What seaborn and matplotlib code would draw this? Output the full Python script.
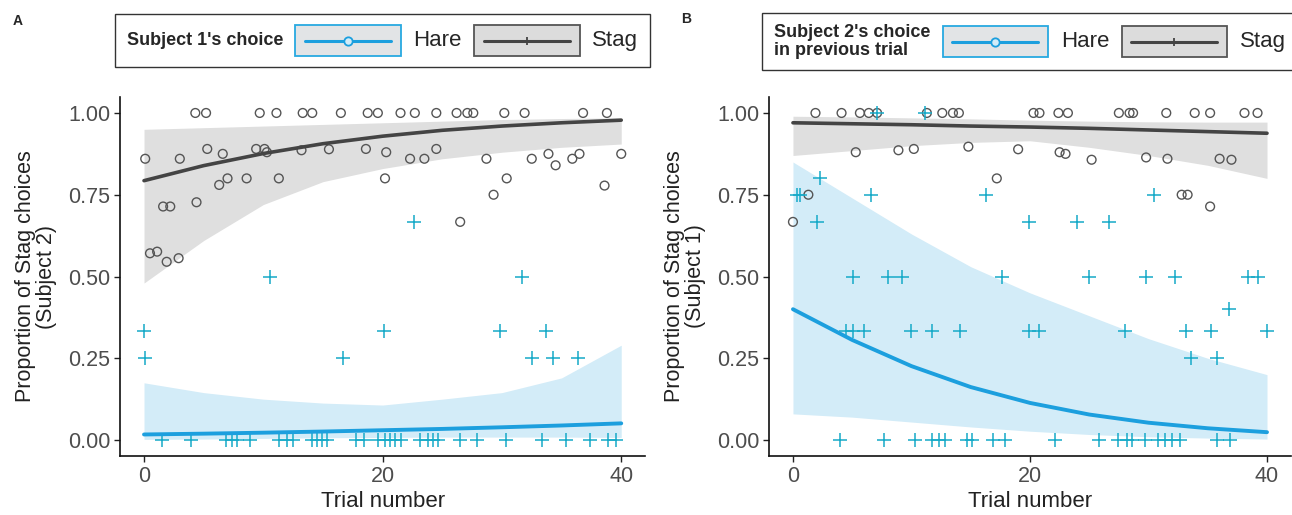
# Stag hunt: proportion of Stag choices over trials, split by partner's choice

import matplotlib.pyplot as plt
import seaborn as sns
import pandas as pd
from matplotlib.patches import Rectangle
from matplotlib.lines import Line2D
from matplotlib.offsetbox import TextArea, DrawingArea, HPacker, AnchoredOffsetbox


# ---- data ----
# Panel A: Subject 2's Stag proportion, split by Subject 1's choice
a_stag_trial = [0.1, 3.0, 4.3, 5.2, 5.3, 6.6, 7.0, 6.3, 4.4, 1.6, 2.2, 0.5, 1.1, 1.9,
                2.9, 9.7, 11.1, 13.3, 14.1, 16.5, 18.75, 19.6, 9.4, 10.1, 10.3, 8.6,
                11.3, 13.2, 15.5, 18.6, 20.3, 20.2, 21.5, 22.7, 24.5, 26.2, 27.1, 27.6,
                30.2, 31.9, 36.8, 38.8, 22.3, 23.5, 24.5, 28.7, 30.4, 29.3, 26.5, 32.5,
                33.9, 34.5, 35.9, 36.5, 38.6, 40.0]
a_stag_prop = [0.86, 0.86, 1, 1, 0.89, 0.875, 0.80, 0.78, 0.727, 0.714, 0.714, 0.571,
               0.576, 0.545, 0.556, 1, 1, 1, 1, 1, 1, 1, 0.89, 0.89, 0.88, 0.80, 0.80,
               0.886, 0.889, 0.89, 0.88, 0.80, 1, 1, 1, 1, 1, 1, 1, 1, 1, 1, 0.86, 0.86,
               0.89, 0.86, 0.80, 0.75, 0.667, 0.86, 0.875, 0.84, 0.86, 0.875, 0.778,
               0.875]
a_hare_trial = [0, 0.1, 16.7, 20.1, 10.6, 31.7, 22.6, 29.8, 33.7, 32.5, 34.3, 36.4,
                1.5, 3.9, 6.9, 7.4, 7.8, 8.9, 11.3, 12.0, 12.5, 14.1, 14.5, 14.9, 15.3,
                17.8, 18.4, 19.6, 20.2, 20.6, 21.0, 21.5, 23.1, 23.8, 24.2, 24.6, 26.5,
                27.9, 30.3, 33.4, 35.4, 37.4, 38.9, 39.6]
a_hare_prop = [0.333, 0.25, 0.25, 0.333, 0.5, 0.5, 0.667, 0.333, 0.333, 0.25, 0.25, 0.25,
               0, 0, 0, 0, 0, 0, 0, 0, 0, 0, 0, 0, 0, 0, 0, 0, 0, 0, 0, 0, 0, 0, 0, 0,
               0, 0, 0, 0, 0, 0, 0, 0]

# Panel B: Subject 1's Stag proportion, split by Subject 2's previous choice
b_stag_trial = [0, 1.3, 1.9, 4.1, 5.65, 6.4, 7.1, 11.3, 12.6, 13.5, 14.0, 5.3, 8.9,
                10.2, 14.8, 19.0, 17.2, 20.3, 20.8, 22.4, 23.2, 27.5, 28.4, 28.7, 31.5,
                33.9, 35.2, 38.1, 39.2, 22.5, 23.0, 25.2, 29.8, 31.6, 36.0, 37.0, 32.8,
                33.3, 35.2]
b_stag_prop = [0.667, 0.75, 1, 1, 1, 1, 1, 1, 1, 1, 1, 0.88, 0.886, 0.89, 0.897, 0.889,
               0.80, 1, 1, 1, 1, 1, 1, 1, 1, 1, 1, 1, 1, 0.88, 0.875, 0.857, 0.864,
               0.86, 0.86, 0.857, 0.75, 0.75, 0.714]
b_hare_trial = [7.1, 11.1, 2.3, 0.3, 0.6, 6.6, 2.0, 16.3, 5.1, 8.0, 9.2, 17.6, 19.9,
                30.5, 24.0, 26.7, 25.0, 29.8, 32.2, 38.4, 39.2, 4.5, 5.1, 6.0, 10.0,
                11.7, 14.1, 19.9, 20.8, 28.0, 33.2, 35.3, 40.0, 36.8, 33.6, 35.8,
                4.0, 7.7, 10.3, 11.7, 12.3, 12.8, 14.7, 15.1, 16.9, 17.9, 22.1, 25.8,
                27.4, 28.2, 28.6, 29.7, 30.8, 31.4, 32.0, 32.7, 35.8, 36.9]
b_hare_prop = [1, 1, 0.8, 0.75, 0.75, 0.75, 0.667, 0.75, 0.5, 0.5, 0.5, 0.5, 0.667,
               0.75, 0.667, 0.667, 0.5, 0.5, 0.5, 0.5, 0.5, 0.333, 0.333, 0.333, 0.333,
               0.333, 0.333, 0.333, 0.333, 0.333, 0.333, 0.333, 0.333, 0.4, 0.25, 0.25,
               0, 0, 0, 0, 0, 0, 0, 0, 0, 0, 0, 0, 0, 0, 0, 0, 0, 0, 0, 0, 0, 0]

# fitted logistic curves and confidence bands, read at every 5 trials
fit_trial = [0, 5, 10, 15, 20, 25, 30, 35, 40]
a_stag_fit = [0.793, 0.839, 0.876, 0.906, 0.929, 0.947, 0.960, 0.970, 0.978]
a_stag_lo = [0.48, 0.61, 0.72, 0.79, 0.83, 0.86, 0.88, 0.895, 0.905]
a_stag_hi = [0.95, 0.955, 0.96, 0.965, 0.97, 0.975, 0.98, 0.983, 0.985]
a_hare_fit = [0.017, 0.0195, 0.0225, 0.026, 0.030, 0.034, 0.039, 0.0445, 0.051]
a_hare_lo = [0.002, 0.003, 0.005, 0.007, 0.008, 0.009, 0.009, 0.009, 0.008]
a_hare_hi = [0.175, 0.145, 0.125, 0.113, 0.107, 0.125, 0.145, 0.19, 0.29]
b_stag_fit = [0.970, 0.967, 0.964, 0.960, 0.957, 0.953, 0.948, 0.943, 0.938]
b_stag_lo = [0.87, 0.885, 0.90, 0.91, 0.915, 0.895, 0.87, 0.84, 0.80]
b_stag_hi = [0.99, 0.988, 0.985, 0.982, 0.978, 0.975, 0.973, 0.972, 0.972]
b_hare_fit = [0.400, 0.306, 0.226, 0.162, 0.1135, 0.078, 0.053, 0.036, 0.024]
b_hare_lo = [0.08, 0.07, 0.055, 0.04, 0.027, 0.017, 0.01, 0.006, 0.003]
b_hare_hi = [0.85, 0.74, 0.63, 0.53, 0.45, 0.38, 0.31, 0.25, 0.20]

BLUE = "#1c9fde"
CROSS = "#16aac8"
BLUE_BAND = "#d3ecf8"
DARK = "#444444"
GREY_BAND = "#dfdfdf"
FONT = ["Liberation Sans", "DejaVu Sans"]

sns.set_theme(style="white")
plt.rcParams["font.family"] = FONT


def draw_panel(ax, stag_t, stag_p, hare_t, hare_p, s_fit, s_lo, s_hi, h_fit, h_lo, h_hi, ylabel):
    ax.fill_between(fit_trial, s_lo, s_hi, color=GREY_BAND, lw=0, zorder=1)
    ax.fill_between(fit_trial, h_lo, h_hi, color=BLUE_BAND, lw=0, zorder=1)

    stag = pd.DataFrame({"trial": stag_t, "prop": stag_p})
    hare = pd.DataFrame({"trial": hare_t, "prop": hare_p})
    sns.scatterplot(data=stag, x="trial", y="prop", ax=ax, marker="o", s=40,
                    facecolor="none", edgecolor="#555555", linewidth=1.0, zorder=3)
    sns.scatterplot(data=hare, x="trial", y="prop", ax=ax, marker="+", s=90,
                    color=CROSS, linewidth=1.1, zorder=3)

    sns.lineplot(x=fit_trial, y=s_fit, ax=ax, color=DARK, lw=2.6, zorder=4)
    sns.lineplot(x=fit_trial, y=h_fit, ax=ax, color=BLUE, lw=2.8, zorder=4)

    ax.set_xlim(-2, 42)
    ax.set_ylim(-0.05, 1.05)
    ax.set_xticks([0, 20, 40])
    ax.set_yticks([0, 0.25, 0.5, 0.75, 1.0])
    ax.set_yticklabels(["0.00", "0.25", "0.50", "0.75", "1.00"])
    ax.tick_params(axis="both", labelsize=15.5, labelcolor="#4d4d4d", length=4, width=1,
                   color="#222222", left=True, bottom=True, direction="out", pad=3)
    ax.set_xlabel("Trial number", fontsize=16, color="#222222", labelpad=3)
    ax.set_ylabel(ylabel, fontsize=15.5, color="#222222", labelpad=8,
                  linespacing=1.0)
    sns.despine(ax=ax)
    for side in ["left", "bottom"]:
        ax.spines[side].set_color("#111111")
        ax.spines[side].set_linewidth(1.2)


def key_box(edge, fill, color, marker):
    da = DrawingArea(76, 22, 0, 0)
    da.add_artist(Rectangle((0, 0), 76, 22, facecolor=fill, edgecolor=edge, lw=1.3))
    da.add_artist(Line2D([7, 38, 69], [11, 11, 11], color=color, lw=2.2,
                         marker=marker, markevery=[1], markersize=6,
                         markerfacecolor=BLUE_BAND if marker == "o" else color,
                         markeredgecolor=color, markeredgewidth=1.3))
    return da


def add_legend(fig, title, x, y, loc):
    children = [
        TextArea(title, textprops=dict(fontsize=13, fontweight="bold", family=FONT,
                                       multialignment="left", linespacing=1.05)),
        key_box("#27a9e1", "#e2e4e6", BLUE, "o"),
        TextArea("Hare", textprops=dict(fontsize=16, family=FONT)),
        key_box("#555555", "#dcdcdc", DARK, "|"),
        TextArea("Stag", textprops=dict(fontsize=16, family=FONT)),
    ]
    box = HPacker(children=children, align="center", pad=0, sep=9)
    anchored = AnchoredOffsetbox(loc=loc, child=box, pad=0.75, borderpad=0, frameon=True,
                                 bbox_to_anchor=(x, y), bbox_transform=fig.transFigure)
    anchored.patch.set_edgecolor("#333333")
    anchored.patch.set_linewidth(1.0)
    fig.add_artist(anchored)


fig = plt.figure(figsize=(12.92, 5.15), dpi=100)
ax_a = fig.add_axes([0.093, 0.1138, 0.4063, 0.6986])
ax_b = fig.add_axes([0.5954, 0.1138, 0.4036, 0.6986])

draw_panel(ax_a, a_stag_trial, a_stag_prop, a_hare_trial, a_hare_prop,
           a_stag_fit, a_stag_lo, a_stag_hi, a_hare_fit, a_hare_lo, a_hare_hi,
           "Proportion of Stag choices\n(Subject 2)")
draw_panel(ax_b, b_stag_trial, b_stag_prop, b_hare_trial, b_hare_prop,
           b_stag_fit, b_stag_lo, b_stag_hi, b_hare_fit, b_hare_lo, b_hare_hi,
           "Proportion of Stag choices\n(Subject 1)")

add_legend(fig, "Subject 1's choice", 0.296, 0.921, "center")
add_legend(fig, "Subject 2's choice\nin previous trial", 0.590, 0.919, "center left")

fig.text(0.010, 0.951, "A", fontsize=10, fontweight="bold")
fig.text(0.527, 0.955, "B", fontsize=10, fontweight="bold")

plt.savefig("out.png", dpi=100)
